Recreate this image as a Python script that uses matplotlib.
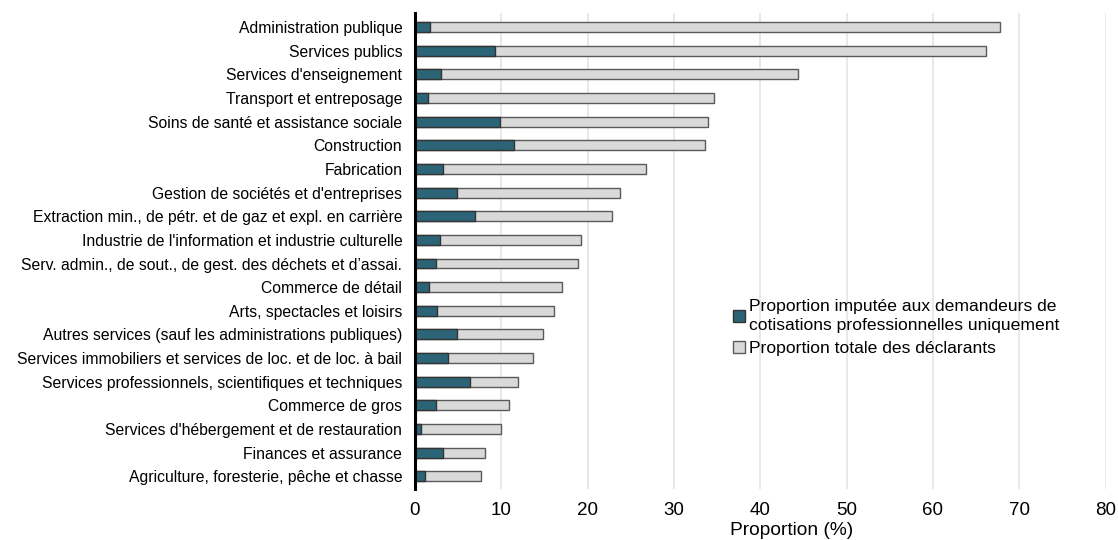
import matplotlib.pyplot as plt
from matplotlib.patches import Patch

plt.rcParams['font.family'] = ['Liberation Sans', 'DejaVu Sans']

categories = [
    "Administration publique",
    "Services publics",
    "Services d'enseignement",
    "Transport et entreposage",
    "Soins de santé et assistance sociale",
    "Construction",
    "Fabrication",
    "Gestion de sociétés et d'entreprises",
    "Extraction min., de pétr. et de gaz et expl. en carrière",
    "Industrie de l'information et industrie culturelle",
    "Serv. admin., de sout., de gest. des déchets et d’assai.",
    "Commerce de détail",
    "Arts, spectacles et loisirs",
    "Autres services (sauf les administrations publiques)",
    "Services immobiliers et services de loc. et de loc. à bail",
    "Services professionnels, scientifiques et techniques",
    "Commerce de gros",
    "Services d'hébergement et de restauration",
    "Finances et assurance",
    "Agriculture, foresterie, pêche et chasse",
]
cotisations = [1.8, 9.3, 3.0, 1.5, 9.9, 11.5, 3.3, 4.9, 7.0, 2.9,
               2.4, 1.7, 2.6, 4.9, 3.9, 6.4, 2.4, 0.7, 3.3, 1.2]
total = [67.8, 66.1, 44.4, 34.6, 33.9, 33.6, 26.8, 23.8, 22.8, 19.3,
         18.9, 17.0, 16.1, 14.8, 13.7, 12.0, 10.9, 10.0, 8.1, 7.7]

dark = '#2b6477'
light = '#d9d9d9'
edge = '#5a5a5a'

fig = plt.figure(figsize=(11.18, 5.4), dpi=100)
ax = fig.add_axes([0.371, 0.094, 0.618, 0.882])

y = list(range(len(categories)))
ax.barh(y, total, height=0.42, color=light, edgecolor=edge, linewidth=1.0, zorder=2)
ax.barh(y, cotisations, height=0.42, color=dark, edgecolor='#333333', linewidth=1.0, zorder=3)

ax.set_yticks(y)
ax.set_yticklabels(categories, fontsize=11.3)
ax.set_ylim(len(categories) - 0.45, -0.6)
ax.set_xlim(0, 80)
ax.set_xticks(range(0, 81, 10))
ax.tick_params(axis='x', labelsize=13.5, length=0, pad=9)
ax.tick_params(axis='y', length=0, pad=9)
ax.xaxis.grid(True, color='#e4e4e4', linewidth=1.2, zorder=0)
ax.set_axisbelow(True)
for s in ['top', 'right', 'bottom']:
    ax.spines[s].set_visible(False)
ax.spines['left'].set_linewidth(2.2)
ax.spines['left'].set_color('black')
ax.spines['left'].set_zorder(5)
ax.set_xlabel('Proportion (%)', fontsize=13.8, labelpad=2, x=0.545)

handles = [
    Patch(facecolor=dark, edgecolor='#333333', label='Proportion imputée aux demandeurs de\ncotisations professionnelles uniquement'),
    Patch(facecolor=light, edgecolor=edge, label='Proportion totale des déclarants'),
]
leg = fig.legend(handles=handles, loc='upper left', bbox_to_anchor=(0.648, 0.462),
                 frameon=False, fontsize=12.6, handlelength=0.65, handleheight=0.65,
                 handletextpad=0.25, labelspacing=0.45, borderpad=0)
for t in leg.get_texts():
    t.set_linespacing(1.35)

fig.savefig('out.png', dpi=100)
